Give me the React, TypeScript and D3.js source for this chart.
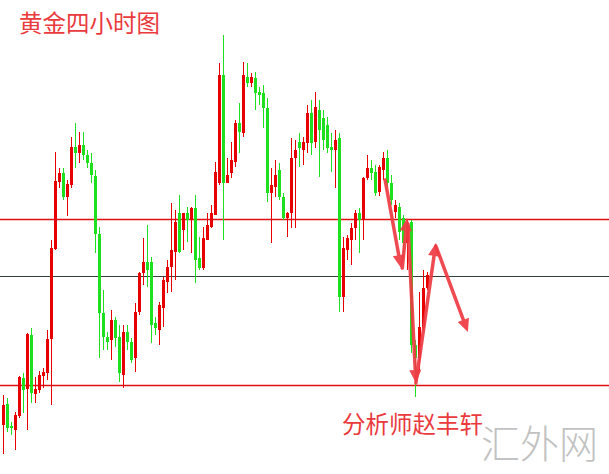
import React from "react";
import * as d3 from "d3";

const OPEN = [1075,1096,1074,1070,1084,1122,1111,1165,1106,1110,
1124,1127,1161,1251,1318,1327,1303,1315,1353,1347,
1355,1345,1337,1324,1266,1187,1163,1160,1180,1163,
1125,1168,1158,1142,1188,1227,1238,1238,1177,1170,
1192,1218,1233,1248,1287,1270,1287,1280,1292,1242,
1232,1260,1273,1285,1317,1425,1317,1327,1338,1377,
1367,1423,1417,1422,1408,1407,1392,1307,1313,1330,
1303,1282,1287,1342,1358,1350,1357,1387,1358,1390,
1382,1375,1353,1350,1362,1203,1250,1260,1272,1287,
1280,1322,1332,1328,1308,1330,1342,1317,1288,1293,
1282,1257,1278,1155,1142,1172,1212];
const CLOSE = [1095,1072,1072,1085,1123,1110,1166,1107,1111,1125,
1128,1161,1252,1319,1327,1303,1316,1353,1347,1355,
1345,1337,1325,1266,1187,1163,1158,1180,1162,1127,
1168,1158,1140,1188,1227,1238,1230,1175,1172,1195,
1220,1233,1250,1278,1248,1287,1280,1292,1240,1232,
1262,1275,1287,1328,1425,1317,1325,1340,1377,1368,
1425,1417,1423,1407,1405,1392,1307,1315,1325,1303,
1282,1287,1342,1350,1352,1358,1387,1357,1393,1370,
1360,1352,1350,1360,1203,1252,1262,1272,1287,1280,
1322,1332,1327,1307,1333,1342,1317,1300,1295,1268,
1257,1277,1155,1142,1173,1212,1225];
const HIGH = [1105,1102,1078,1088,1124,1127,1167,1172,1123,1129,
1132,1170,1260,1348,1332,1332,1320,1363,1377,1368,
1368,1350,1347,1330,1273,1210,1168,1190,1183,1175,
1175,1175,1162,1197,1228,1262,1275,1243,1183,1198,
1223,1240,1297,1290,1305,1287,1293,1293,1305,1263,
1273,1287,1295,1338,1437,1465,1342,1358,1380,1397,
1438,1437,1427,1428,1413,1415,1402,1332,1340,1337,
1307,1288,1362,1360,1367,1363,1395,1400,1408,1400,
1390,1383,1367,1370,1367,1263,1265,1277,1290,1292,
1323,1345,1340,1335,1335,1348,1350,1325,1300,1297,
1285,1280,1280,1160,1208,1230,1228];
const LOW = [1046,1068,1065,1050,1082,1087,1070,1097,1097,1107,
1112,1120,1095,1250,1312,1300,1284,1312,1332,1337,
1340,1332,1317,1247,1142,1150,1150,1140,1153,1118,
1112,1150,1137,1128,1185,1215,1213,1157,1165,1155,
1173,1207,1208,1220,1247,1250,1258,1247,1217,1230,
1230,1260,1272,1285,1315,1260,1317,1322,1333,1347,
1363,1413,1413,1390,1395,1372,1298,1257,1303,1300,
1280,1263,1272,1272,1333,1335,1347,1345,1352,1323,
1350,1347,1328,1312,1188,1188,1240,1235,1260,1247,
1260,1320,1320,1304,1304,1320,1312,1295,1282,1260,
1247,1230,1147,1103,1130,1170,1210];

const LEVEL_PRICES = [1281, 1224, 1115];
const LEVEL_COLORS = ["#e01010", "#34403f", "#e01010"];
const LEVEL_WIDTHS = [1.6, 1.2, 1.6];

// annotation arrows in (candle index, price)
const ARROWS: [number, number, number, number][] = [
  [95.6, 1320, 99.6, 1232],
  [99.9, 1232, 101.1, 1282],
  [101.3, 1276, 103.3, 1117],
  [103.3, 1117, 108.3, 1257],
  [108.3, 1254, 116.3, 1168],
];

const TITLE = "黄金四小时图";
const AUTHOR = "分析师赵丰轩";
const WATERMARK = "汇外网";

const W = 609;
const H = 474;

export default function App() {
  const x = d3.scaleLinear().domain([0, 106]).range([2.7, 426.7]);
  const y = d3.scaleLinear().domain([1026, 1500]).range([H, 0]);
  const UP = "#e60000";
  const DOWN = "#1ee01e";
  const bw = 3;
  const arrowColor = "#ee3b43";

  const candles = OPEN.map((o, i) => {
    const c = CLOSE[i];
    const up = c >= o;
    const col = up ? UP : DOWN;
    const cx = Math.round(x(i)) + 0.5;
    const top = y(Math.max(o, c));
    const bot = y(Math.min(o, c));
    return (
      <g key={i}>
        <line x1={cx} x2={cx} y1={y(HIGH[i])} y2={y(LOW[i])} stroke={col} strokeWidth={1} />
        <rect x={cx - bw / 2} y={top} width={bw} height={Math.max(1, bot - top)} fill={col} />
      </g>
    );
  });

  const arrows = ARROWS.map(([i0, p0, i1, p1], k) => {
    const x0 = x(i0), y0 = y(p0), x1 = x(i1), y1 = y(p1);
    const ang = Math.atan2(y1 - y0, x1 - x0);
    const L = 13, hw = 6;
    const bx = x1 - L * Math.cos(ang), by = y1 - L * Math.sin(ang);
    const px = -Math.sin(ang), py = Math.cos(ang);
    const pts = `${x1},${y1} ${bx + hw * px},${by + hw * py} ${bx - hw * px},${by - hw * py}`;
    return (
      <g key={k} opacity={0.92}>
        <line x1={x0} y1={y0} x2={bx} y2={by} stroke={arrowColor} strokeWidth={3.5} strokeLinecap="round" />
        <polygon points={pts} fill={arrowColor} />
      </g>
    );
  });

  return (
    <div style={{ position: "absolute", left: 0, top: 0 }}>
      <svg width={W} height={H} style={{ display: "block", background: "#fff" }}>
        <rect width={W} height={H} fill="#fff" />
        {LEVEL_PRICES.map((p, i) => (
          <line key={i} x1={0} x2={W} y1={Math.round(y(p)) + 0.5} y2={Math.round(y(p)) + 0.5} stroke={LEVEL_COLORS[i]} strokeWidth={LEVEL_WIDTHS[i]} />
        ))}
        {candles}
        {arrows}
        <text x={481} y={458} fontFamily="'Noto Sans CJK SC', sans-serif" fontSize={39} fontWeight={300} fill="#c2c2c2">{WATERMARK}</text>
        <text x={19} y={32} fontFamily="'Noto Sans CJK SC', sans-serif" fontSize={23.5} fill="#ea3a3e">{TITLE}</text>
        <text x={342} y={433} fontFamily="'Noto Sans CJK SC', sans-serif" fontSize={23.5} fill="#ea3a3e">{AUTHOR}</text>
      </svg>
    </div>
  );
}
